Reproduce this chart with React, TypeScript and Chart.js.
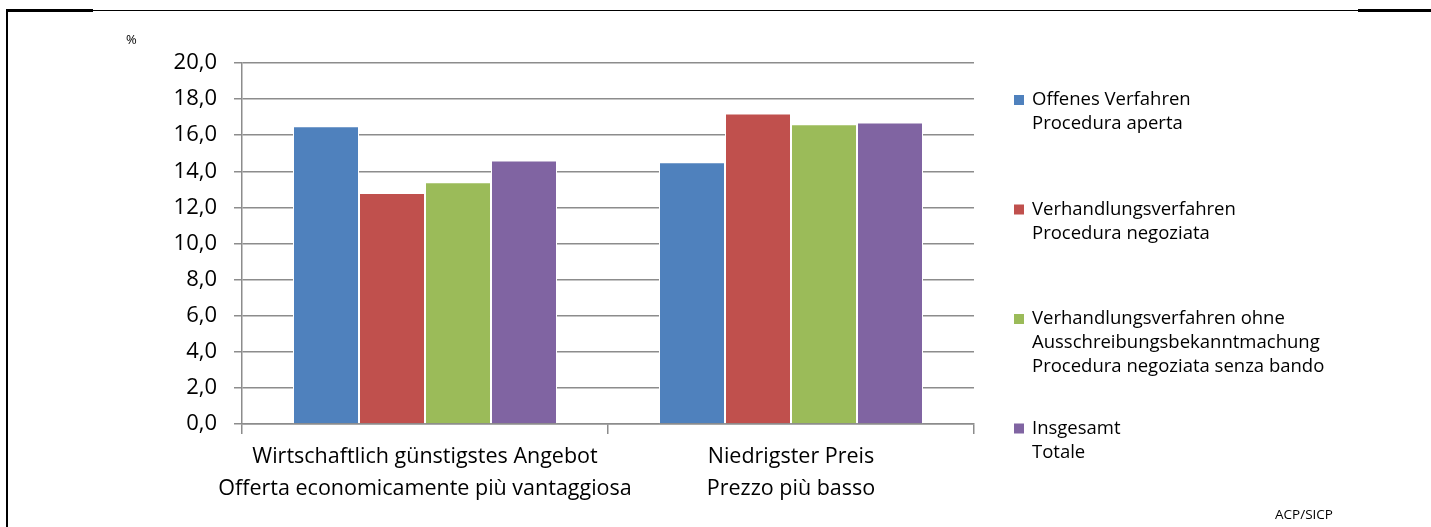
import React, { useEffect, useRef } from "react";
import { Chart, registerables } from "chart.js";

Chart.register(...registerables);

const categories: string[][] = [
  ["Wirtschaftlich günstigstes Angebot", "Offerta economicamente più vantaggiosa"],
  ["Niedrigster Preis", "Prezzo più basso"],
];

const seriesNames: string[][] = [
  ["Offenes Verfahren", "Procedura aperta"],
  ["Verhandlungsverfahren", "Procedura negoziata"],
  ["Verhandlungsverfahren ohne", "Ausschreibungsbekanntmachung", "Procedura negoziata senza bando"],
  ["Insgesamt", "Totale"],
];

const offenesVerfahren = [16.5, 14.5];
const verhandlungsverfahren = [12.8, 17.2];
const ohneBekanntmachung = [13.4, 16.6];
const insgesamt = [14.6, 16.7];

const seriesColors = ["#4F81BD", "#C0504D", "#9BBB59", "#8064A2"];

const yTicksMin = 0;
const yTicksMax = 20;
const yTickStep = 2;

const unitLabel = "%";
const sourceLabel = "ACP/SICP";

const FONT = "'Open Sans', 'DejaVu Sans', sans-serif";
const GRID = "#8c8c8c";

const overlayPlugin = {
  id: "overlayPlugin",
  afterDraw(chart: any) {
    const ctx = chart.ctx as CanvasRenderingContext2D;
    ctx.save();
    ctx.fillStyle = "#000";
    ctx.textBaseline = "middle";
    // unit label
    ctx.font = `13px ${FONT}`;
    ctx.textAlign = "left";
    ctx.fillText(unitLabel, 126, 40);
    // source
    ctx.font = `13.5px ${FONT}`;
    ctx.textAlign = "center";
    ctx.fillText(sourceLabel, 1304, 515);
    // legend
    const startY = 100;
    const pitch = 109.5;
    const lineH = 24;
    ctx.textAlign = "left";
    ctx.font = `18.5px ${FONT}`;
    chart.data.datasets.forEach((ds: any, i: number) => {
      const y0 = startY + i * pitch;
      ctx.fillStyle = ds.backgroundColor;
      ctx.fillRect(1014, y0 - 5, 10, 10);
      ctx.fillStyle = "#000";
      const lines: string[] = ds.label.split("\n");
      lines.forEach((ln, j) => ctx.fillText(ln, 1032, y0 + j * lineH));
    });
    ctx.restore();
  },
};

export default function App() {
  const ref = useRef<HTMLCanvasElement | null>(null);
  useEffect(() => {
    if (!ref.current) return;
    const values = [offenesVerfahren, verhandlungsverfahren, ohneBekanntmachung, insgesamt];
    const chart = new Chart(ref.current, {
      type: "bar",
      data: {
        labels: categories,
        datasets: values.map((v, i) => ({
          label: seriesNames[i].join("\n"),
          data: v,
          backgroundColor: seriesColors[i],
          borderColor: "#ffffff",
          borderWidth: 1,
          barPercentage: 1,
          categoryPercentage: 0.7213,
        })),
      },
      options: {
        animation: false,
        responsive: false,
        maintainAspectRatio: false,
        layout: { padding: { left: 0, top: 63, right: 457, bottom: 0 } },
        plugins: {
          legend: { display: false },
          tooltip: { enabled: false },
        },
        scales: {
          x: {
            offset: true,
            grid: {
              offset: true,
              drawOnChartArea: false,
              drawTicks: true,
              tickLength: 10,
              color: GRID,
              lineWidth: 1.5,
            },
            border: { display: true, color: GRID, width: 1.5 },
            ticks: {
              color: "#000",
              padding: 7,
              font: { family: FONT, size: 21.5, lineHeight: 32 / 21.5 },
              maxRotation: 0,
              autoSkip: false,
            },
            afterFit: (scale: any) => {
              scale.height = 103;
            },
          },
          y: {
            min: yTicksMin,
            max: yTicksMax,
            ticks: {
              stepSize: yTickStep,
              color: "#000",
              padding: 17,
              font: { family: FONT, size: 22 },
              callback: (v: any) => Number(v).toFixed(1).replace(".", ","),
            },
            grid: {
              color: GRID,
              lineWidth: 1.5,
              tickLength: 8,
              drawTicks: true,
            },
            border: { display: true, color: GRID, width: 1.5 },
            afterFit: (scale: any) => {
              scale.width = 242;
            },
          },
        },
      },
      plugins: [overlayPlugin],
    });
    return () => chart.destroy();
  }, []);

  return (
    <div style={{ position: "fixed", left: 0, top: 0, width: 1431, height: 527, background: "#fff" }}>
      <canvas ref={ref} width={1431} height={527} style={{ position: "absolute", left: 0, top: 0, width: 1431, height: 527 }} />
      <div style={{ position: "absolute", left: 6, top: 9, width: 87, height: 3, background: "#000" }} />
      <div style={{ position: "absolute", left: 93, top: 10, width: 1265, height: 1, background: "#000" }} />
      <div style={{ position: "absolute", left: 1358, top: 9, width: 73, height: 3, background: "#000" }} />
      <div style={{ position: "absolute", left: 6, top: 9, width: 2, height: 518, background: "#000" }} />
    </div>
  );
}
